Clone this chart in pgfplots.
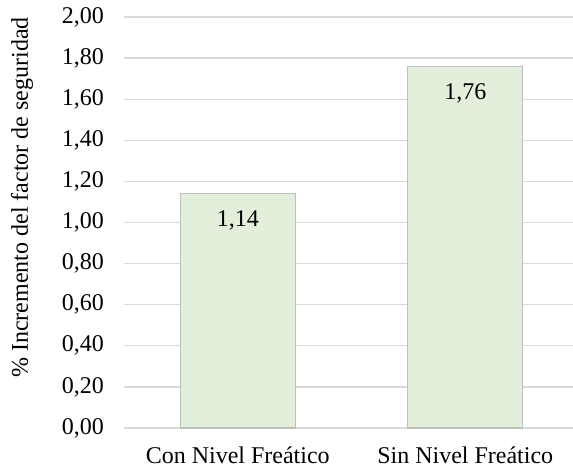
\documentclass[border=0pt]{standalone}
\usepackage{pgfplots}
\pgfplotsset{compat=1.18}
\usepackage{fontspec}
\setmainfont{Liberation Serif}
\definecolor{barfill}{HTML}{E2EFDA}
\definecolor{gridc}{HTML}{D9D9D9}
\begin{document}
\begin{tikzpicture}
\useasboundingbox (0,0) rectangle (286.5pt,234.5pt);
\begin{axis}[
  at={(62pt,20.5pt)}, anchor=south west,
  scale only axis=true,
  width=227.5pt, height=205.5pt,
  xmin=-0.5, xmax=1.5,
  ymin=0, ymax=2,
  ytick={0,0.2,...,2.01},
  xtick=data,
  xticklabels={Con Nivel Freático, Sin Nivel Freático},
  axis line style={draw=none},
  major tick length=0pt,
  ymajorgrids=true,
  grid style={gridc, line width=0.65pt},
  /pgf/number format/.cd, use comma, fixed, fixed zerofill, precision=2, assume math mode=true,
  /pgfplots/.cd,
  yticklabel style={anchor=east, xshift=-6.5pt, font=\fontsize{12}{14}\selectfont},
  xticklabel style={anchor=north, yshift=-6pt, font=\fontsize{12}{14}\selectfont},
  ylabel={\% Incremento del factor de seguridad},
  every axis y label/.style={at={(axis description cs:-0.224,0.561)}, rotate=90, anchor=center, font=\fontsize{12}{14}\selectfont},
  clip=false,
]
\addplot[ybar, bar width=57.5pt, fill=barfill, draw=black!25, line width=0.7pt,
  nodes near coords,
  nodes near coords style={anchor=center, yshift=-13.5pt, font=\fontsize{12}{14}\selectfont, text=black},
  point meta=explicit]
  coordinates {(0,1.14) [1.14] (1,1.76) [1.76]};
\end{axis}
\end{tikzpicture}
\end{document}
